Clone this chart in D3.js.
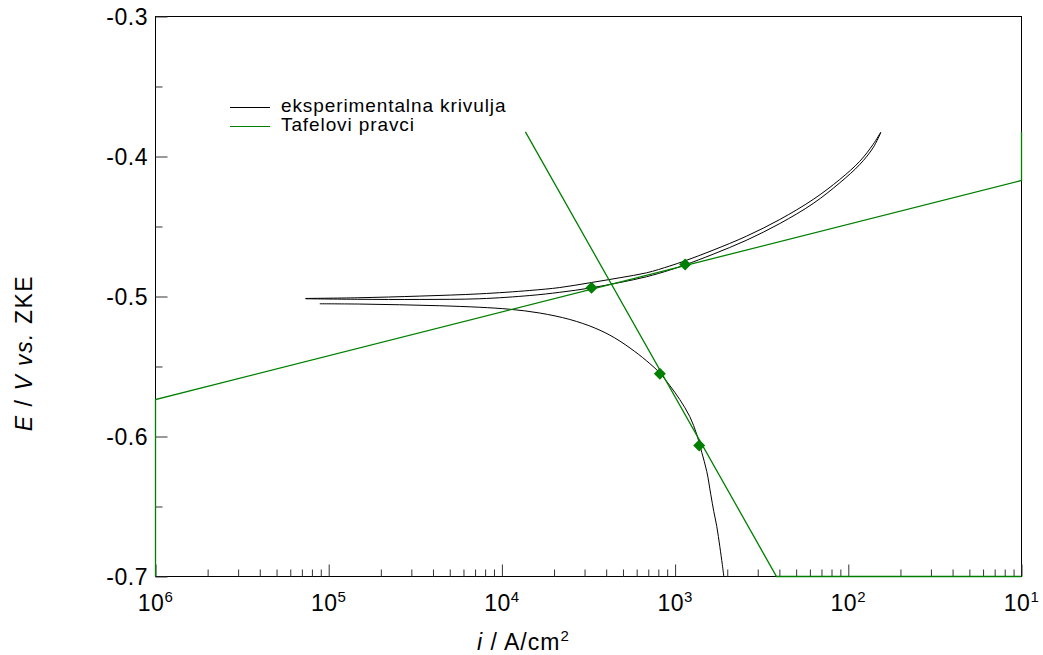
<!DOCTYPE html>
<html>
<head>
<meta charset="utf-8">
<script src="https://cdn.jsdelivr.net/npm/d3@7"></script>
<style>
  body { margin: 0; background: #fff; }
  text { font-family: Arial, "Liberation Sans", sans-serif; fill: #000; }
</style>
</head>
<body>
<svg id="chart" width="1043" height="655"></svg>
<script>
// Polarisation curve (log |i| vs E) with Tafel extrapolation lines

// experimental curve, anodic part – outgoing scan (upper line)
const anodicUpperI = [7.347e-6, 1.472e-5, 3.357e-5, 7.46e-5, 1.449e-4, 2.159e-4, 3.218e-4, 4.795e-4, 6.837e-4, 9.32e-4, 1.153e-3, 1.657e-3, 2.584e-3, 4.022e-3, 6.263e-3, 8.93e-3, 1.165e-2, 1.390e-2, 1.540e-2];
const anodicUpperE = [-0.5014, -0.5009, -0.4997, -0.4981, -0.4957, -0.4936, -0.4902, -0.4866, -0.4831, -0.4782, -0.4743, -0.4669, -0.4569, -0.4450, -0.4307, -0.4164, -0.4034, -0.3914, -0.3826];

// experimental curve, anodic part – return scan (lower line)
const anodicLowerI = [7.347e-6, 1.472e-5, 3.357e-5, 7.46e-5, 1.449e-4, 2.159e-4, 3.291e-4, 4.795e-4, 6.837e-4, 9.32e-4, 1.142e-3, 1.657e-3, 2.584e-3, 4.022e-3, 6.263e-3, 8.93e-3, 1.165e-2, 1.390e-2, 1.540e-2];
const anodicLowerE = [-0.5016, -0.5020, -0.5021, -0.5016, -0.4993, -0.4970, -0.4938, -0.4900, -0.4859, -0.4811, -0.4774, -0.4698, -0.4598, -0.4479, -0.4336, -0.4188, -0.4057, -0.3938, -0.3829];

// experimental curve, cathodic part
const cathodicI = [8.88e-6, 1.512e-5, 2.573e-5, 4.38e-5, 7.46e-5, 1.110e-4, 1.655e-4, 2.466e-4, 3.44e-4, 4.485e-4, 5.853e-4, 7.14e-4, 8.16e-4, 9.32e-4, 1.064e-3, 1.215e-3, 1.334e-3, 1.426e-3, 1.524e-3, 1.607e-3, 1.673e-3, 1.741e-3, 1.812e-3, 1.873e-3, 1.911e-3];
const cathodicE = [-0.5052, -0.5054, -0.5059, -0.5066, -0.5077, -0.5091, -0.5118, -0.5164, -0.5225, -0.5296, -0.5393, -0.5479, -0.5546, -0.5636, -0.5736, -0.5857, -0.5986, -0.6114, -0.6250, -0.6414, -0.6536, -0.6643, -0.6786, -0.6914, -0.7000];

// Tafel lines (held at the plot limits)
const tafelAnodicI = [1e-6, 1e-6, 1e-1, 1e-1];
const tafelAnodicE = [-0.700, -0.5736, -0.4171, -0.3824];
const tafelCathodicI = [1.367e-4, 3.85e-3, 1e-1];
const tafelCathodicE = [-0.3824, -0.700, -0.700];

// points used to fit the Tafel lines
const fitPointsI = [3.29e-4, 1.143e-3, 8.17e-4, 1.377e-3];
const fitPointsE = [-0.4938, -0.4771, -0.5552, -0.6064];

// axis ticks and labels
const xMajorTicks = [1e-6, 1e-5, 1e-4, 1e-3, 1e-2, 1e-1];
const xTickExponents = ["6", "5", "4", "3", "2", "1"];
const yMajorTicks = [-0.7, -0.6, -0.5, -0.4, -0.3];
const yTickLabels = ["-0.7", "-0.6", "-0.5", "-0.4", "-0.3"];
const yMinorTicks = [-0.65, -0.55, -0.45, -0.35];

const legendLabels = ["eksperimentalna krivulja", "Tafelovi pravci"];
const legendColors = ["#000000", "#008000"];

const GREEN = "#008000";

const svg = d3.select("#chart");

const x = d3.scaleLog().domain([1e-6, 1e-1]).range([155.5, 1021.5]);
const y = d3.scaleLinear().domain([-0.7, -0.3]).range([576.5, 16.5]);

const toPoints = (I, E) => I.map((v, k) => ({ i: v, E: E[k] }));

// plot frame
svg.append("rect")
  .attr("x", x(1e-6)).attr("y", y(-0.3))
  .attr("width", x(1e-1) - x(1e-6)).attr("height", y(-0.7) - y(-0.3))
  .attr("fill", "none").attr("stroke", "#000").attr("stroke-width", 1);

// bottom axis ticks, pointing into the plot
const isDecade = t => Math.abs(Math.log10(t) - Math.round(Math.log10(t))) < 1e-9;
const xMinorTicks = x.ticks().filter(t => !isDecade(t));

const xMinorAxis = d3.axisBottom(x).tickValues(xMinorTicks).tickSize(-7).tickFormat("");
const xMajorAxis = d3.axisBottom(x).tickValues(xMajorTicks).tickSize(-12).tickFormat("");
[xMinorAxis, xMajorAxis].forEach(ax => {
  const g = svg.append("g").attr("transform", `translate(0,${y(-0.7)})`).call(ax);
  g.select(".domain").remove();
  g.selectAll(".tick line").attr("stroke", "#333");
});

// left axis ticks, pointing into the plot
const yMinorAxis = d3.axisLeft(y).tickValues(yMinorTicks).tickSize(-7).tickFormat("");
const yMajorAxis = d3.axisLeft(y).tickValues(yMajorTicks).tickSize(-12).tickFormat("");
[yMinorAxis, yMajorAxis].forEach(ax => {
  const g = svg.append("g").attr("transform", `translate(${x(1e-6)},0)`).call(ax);
  g.select(".domain").remove();
  g.selectAll(".tick line").attr("stroke", "#333");
});

// x tick labels: 10 with superscript exponent
xMajorTicks.forEach((t, k) => {
  const txt = svg.append("text")
    .attr("x", x(t)).attr("y", 611)
    .attr("text-anchor", "middle")
    .style("font-size", "23px").style("letter-spacing", "0.5px");
  txt.append("tspan").text("10");
  txt.append("tspan").attr("dy", -9).style("font-size", "15px").text(xTickExponents[k]);
});

// y tick labels
yMajorTicks.forEach((t, k) => {
  svg.append("text")
    .attr("x", 148).attr("y", y(t)).attr("dy", "0.36em")
    .attr("text-anchor", "end")
    .style("font-size", "23px").style("letter-spacing", "0.5px")
    .text(yTickLabels[k]);
});

// x axis title
const xt = svg.append("text").attr("x", 477).attr("y", 650)
  .style("font-size", "23px").style("letter-spacing", "1px");
xt.append("tspan").style("font-style", "italic").text("i");
xt.append("tspan").text(" / A/cm");
xt.append("tspan").attr("dy", -9).style("font-size", "15px").text("2");

// y axis title
const yt = svg.append("text")
  .attr("transform", "translate(32,353) rotate(-90)")
  .attr("text-anchor", "middle")
  .style("font-size", "23px").style("letter-spacing", "1.5px");
yt.append("tspan").style("font-style", "italic").text("E");
yt.append("tspan").text(" / ");
yt.append("tspan").style("font-style", "italic").text("V vs.");
yt.append("tspan").text(" ZKE");

// experimental curve
const curveLine = d3.line().x(d => x(d.i)).y(d => y(d.E)).curve(d3.curveCatmullRom.alpha(0.5));
[[anodicUpperI, anodicUpperE], [anodicLowerI, anodicLowerE], [cathodicI, cathodicE]].forEach(([I, E]) => {
  svg.append("path")
    .datum(toPoints(I, E))
    .attr("d", curveLine)
    .attr("fill", "none").attr("stroke", "#000").attr("stroke-width", 1);
});

// Tafel lines
const straight = d3.line().x(d => x(d.i)).y(d => y(d.E));
[[tafelAnodicI, tafelAnodicE], [tafelCathodicI, tafelCathodicE]].forEach(([I, E]) => {
  svg.append("path")
    .datum(toPoints(I, E))
    .attr("d", straight)
    .attr("fill", "none").attr("stroke", GREEN).attr("stroke-width", 1.3);
});

// fit points as diamonds
const diamond = d3.symbol().type(d3.symbolSquare).size(72);
svg.selectAll(".fit-point")
  .data(toPoints(fitPointsI, fitPointsE))
  .join("path")
  .attr("class", "fit-point")
  .attr("d", diamond)
  .attr("transform", d => `translate(${x(d.i)},${y(d.E)}) rotate(45)`)
  .attr("fill", GREEN);

// legend
const legend = svg.append("g");
legendLabels.forEach((lab, k) => {
  const ly = 107.5 + k * 19;
  legend.append("line")
    .attr("x1", 230).attr("x2", 270).attr("y1", ly).attr("y2", ly)
    .attr("stroke", legendColors[k]).attr("stroke-width", 1);
  legend.append("text")
    .attr("x", 281).attr("y", ly + 4.5)
    .style("font-size", "19px").style("letter-spacing", "0.9px")
    .text(lab);
});
</script>
</body>
</html>
